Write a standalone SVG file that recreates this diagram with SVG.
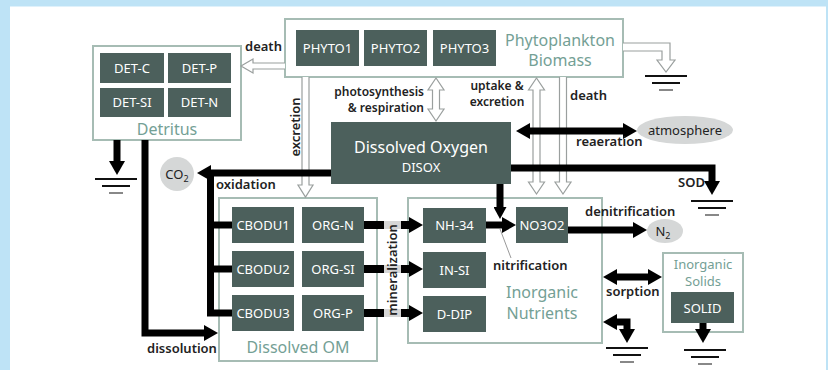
<svg xmlns="http://www.w3.org/2000/svg" xmlns:xlink="http://www.w3.org/1999/xlink" width="828" height="370" viewBox="0 0 828 370">
<style>
.grp{fill:#fff;stroke:#a6bcb4;stroke-width:2}
.box{fill:#4c605c}
.bt{fill:#fff;font-family:"Noto Sans","Liberation Sans",sans-serif;font-size:13px;text-anchor:middle}
.gt{fill:#74a095;font-family:"Noto Sans","Liberation Sans",sans-serif;font-size:16px;text-anchor:middle}
.lb{fill:#222;font-family:"Noto Sans","Liberation Sans",sans-serif;font-size:13px;font-weight:600}
.sm{font-size:12px}
.hol{fill:#fff;stroke:#9a9f9e;stroke-width:1.2;stroke-linejoin:miter}
.thk{fill:none;stroke:#000;stroke-width:7;stroke-linejoin:miter}
.gry{fill:none;stroke:#d6d6d6;stroke-width:7}
.ell{fill:#d5d7d7}
</style>
<defs>
<marker id="ah" markerUnits="userSpaceOnUse" markerWidth="14" markerHeight="16" refX="2" refY="8" orient="auto-start-reverse" viewBox="0 0 14 16">
<path d="M0,0 L14,8 L0,16 Z" fill="#000"/>
</marker>
<marker id="ahs" markerUnits="userSpaceOnUse" markerWidth="12" markerHeight="13" refX="2" refY="6.5" orient="auto" viewBox="0 0 12 13">
<path d="M0,0 L12,6.5 L0,13 Z" fill="#000"/>
</marker>
<g id="gnd">
<line x1="-21" y1="0" x2="21" y2="0" stroke="#111" stroke-width="2"/>
<line x1="-14" y1="7" x2="14" y2="7" stroke="#111" stroke-width="2"/>
<line x1="-7" y1="14" x2="7" y2="14" stroke="#888" stroke-width="2"/>
</g>
</defs>
<rect x="0" y="0" width="828" height="370" fill="#bee3f6"/>
<rect x="10" y="6.5" width="816" height="364" fill="#fff"/>

<g id="phyto">
<rect class="grp" x="285" y="19" width="338" height="58"/>
<rect class="box" x="296" y="30" width="63" height="36"/><text class="bt" x="327.5" y="53">PHYTO1</text>
<rect class="box" x="364" y="30" width="63" height="36"/><text class="bt" x="395.5" y="53">PHYTO2</text>
<rect class="box" x="433" y="30" width="63" height="36"/><text class="bt" x="464.5" y="53">PHYTO3</text>
<text class="gt" x="560" y="46">Phytoplankton</text>
<text class="gt" x="560" y="66">Biomass</text>
</g>

<g id="detritus">
<rect class="grp" x="93" y="46" width="148" height="94"/>
<rect class="box" x="100" y="53" width="64" height="30"/><text class="bt" x="132" y="73">DET-C</text>
<rect class="box" x="168" y="53" width="63" height="30"/><text class="bt" x="199.5" y="73">DET-P</text>
<rect class="box" x="100" y="88" width="64" height="29"/><text class="bt" x="132" y="107">DET-SI</text>
<rect class="box" x="168" y="88" width="63" height="29"/><text class="bt" x="199.5" y="107">DET-N</text>
<text class="gt" x="167" y="135">Detritus</text>
</g>

<g id="disox">
<rect class="box" x="331" y="122" width="180" height="62"/>
<text class="bt" x="421" y="153" style="font-size:16px">Dissolved Oxygen</text>
<text class="bt" x="421" y="172">DISOX</text>
</g>

<g id="dom">
<rect class="grp" x="219" y="198" width="158" height="163"/>
<rect class="box" x="232" y="207" width="62" height="36"/><text class="bt" x="263" y="230">CBODU1</text>
<rect class="box" x="302" y="207" width="62" height="36"/><text class="bt" x="333" y="230">ORG-N</text>
<rect class="box" x="232" y="251" width="62" height="36"/><text class="bt" x="263" y="274">CBODU2</text>
<rect class="box" x="302" y="251" width="62" height="36"/><text class="bt" x="333" y="274">ORG-SI</text>
<rect class="box" x="232" y="295" width="62" height="36"/><text class="bt" x="263" y="318">CBODU3</text>
<rect class="box" x="302" y="295" width="62" height="36"/><text class="bt" x="333" y="318">ORG-P</text>
<text class="gt" x="298" y="353">Dissolved OM</text>
</g>

<g id="nutrients">
<rect class="grp" x="408" y="198" width="194" height="145"/>
<rect class="box" x="423" y="208" width="63" height="35"/><text class="bt" x="454.5" y="230">NH-34</text>
<rect class="box" x="423" y="252" width="63" height="36"/><text class="bt" x="454.5" y="275">IN-SI</text>
<rect class="box" x="423" y="296" width="63" height="36"/><text class="bt" x="454.5" y="319">D-DIP</text>
<rect class="box" x="516" y="207" width="52" height="36"/><text class="bt" x="542" y="230">NO3O2</text>
<text class="gt" x="542" y="298">Inorganic</text>
<text class="gt" x="542" y="319">Nutrients</text>
</g>

<g id="solids">
<rect class="grp" x="663" y="253" width="80" height="79"/>
<text class="gt" x="703" y="269" style="font-size:13px">Inorganic</text>
<text class="gt" x="703" y="286" style="font-size:13px">Solids</text>
<rect class="box" x="671" y="292" width="63" height="31"/><text class="bt" x="702.5" y="313">SOLID</text>
</g>

<g id="co2">
<circle class="ell" cx="177" cy="174" r="17"/>
<text class="lb" x="177" y="179" text-anchor="middle" style="font-weight:normal">CO<tspan font-size="9" dy="3">2</tspan></text>
</g>
<g id="atmosphere">
<ellipse class="ell" cx="685" cy="130" rx="48" ry="14"/>
<text class="lb" x="685" y="135" text-anchor="middle" style="font-weight:normal">atmosphere</text>
</g>
<g id="n2">
<ellipse class="ell" cx="665" cy="231" rx="18" ry="12"/>
<text class="lb" x="663" y="236" text-anchor="middle" style="font-weight:normal">N<tspan font-size="9" dy="3">2</tspan></text>
</g>

<g id="grounds">
<use xlink:href="#gnd" href="#gnd" x="116" y="179"/>
<use xlink:href="#gnd" href="#gnd" x="666" y="76"/>
<use xlink:href="#gnd" href="#gnd" x="712" y="201"/>
<use xlink:href="#gnd" href="#gnd" x="627" y="348"/>
<use xlink:href="#gnd" href="#gnd" x="705" y="350"/>
</g>

<g id="connectors">
<path class="hol" d="M285,63 H253 V59 L241,66 L253,73 V69 H285"/>
<path class="hol" d="M623,43 H670 V60 H675 L666,72 L657,60 H662 V51 H623"/>
<path class="hol" d="M302,77 V185 H298 L305.5,197 L313,185 H309 V77"/>
<path class="hol" d="M432.5,90 H428 L436,78 L444,90 H439.5 V109 H444 L436,121 L428,109 H432.5 Z"/>
<path class="hol" d="M533,90 H528.5 L536.5,78 L544.5,90 H540 V182 H544.5 L536.5,194 L528.5,182 H533 Z"/>
<path class="hol" d="M559.5,77 V182 H555 L563,194 L571,182 H566.5 V77"/>
<line class="thk" x1="528" y1="131" x2="625" y2="131" marker-start="url(#ah)" marker-end="url(#ah)"/>
<polyline class="thk" points="511,168 712,168 712,183" marker-end="url(#ah)"/>
<polyline class="thk" points="331,173 209,173" marker-end="url(#ah)"/>
<polyline class="thk" points="210.5,170 210.5,313 232,313"/>
<line class="thk" x1="210.5" y1="225" x2="232" y2="225"/>
<line class="thk" x1="210.5" y1="269" x2="232" y2="269"/>
<polyline class="thk" points="145,140 145,333 206,333" marker-end="url(#ah)"/>
<line class="thk" x1="117" y1="140" x2="117" y2="163" marker-end="url(#ah)"/>
<line class="thk" x1="500" y1="184" x2="500" y2="209" marker-end="url(#ahs)"/>
<line class="thk" x1="486" y1="225" x2="504" y2="225" marker-end="url(#ah)"/>
<line class="thk" x1="568" y1="230" x2="635" y2="230" marker-end="url(#ah)"/>
<line class="thk" x1="615" y1="277" x2="650" y2="277" marker-start="url(#ah)" marker-end="url(#ah)"/>
<polyline class="thk" points="615,322 627,322 627,331" marker-start="url(#ah)" marker-end="url(#ah)"/>
<line class="thk" x1="703" y1="323" x2="703" y2="331" marker-end="url(#ah)"/>
<line class="thk" x1="364" y1="225" x2="384" y2="225" style="stroke-width:8"/>
<line class="gry" x1="384" y1="225" x2="401" y2="225" style="stroke-width:8"/>
<line class="thk" x1="401" y1="225" x2="411" y2="225" style="stroke-width:8" marker-end="url(#ah)"/>
<line class="thk" x1="364" y1="269" x2="384" y2="269" style="stroke-width:8"/>
<line class="gry" x1="384" y1="269" x2="401" y2="269" style="stroke-width:8"/>
<line class="thk" x1="401" y1="269" x2="411" y2="269" style="stroke-width:8" marker-end="url(#ah)"/>
<line class="thk" x1="364" y1="313" x2="384" y2="313" style="stroke-width:8"/>
<line class="gry" x1="384" y1="313" x2="401" y2="313" style="stroke-width:8"/>
<line class="thk" x1="401" y1="313" x2="411" y2="313" style="stroke-width:8" marker-end="url(#ah)"/>
<line x1="500" y1="229" x2="511" y2="258" stroke="#999" stroke-width="1"/>
</g>

<g id="labels">
<text class="lb" x="245" y="51">death</text>
<text class="lb sm" x="424" y="96" text-anchor="end">photosynthesis</text>
<text class="lb sm" x="424" y="112" text-anchor="end">&amp; respiration</text>
<text class="lb sm" x="497" y="90" text-anchor="middle">uptake &amp;</text>
<text class="lb sm" x="497" y="106" text-anchor="middle">excretion</text>
<text class="lb" x="570" y="100">death</text>
<text class="lb" transform="translate(299.5,127) rotate(-90)" text-anchor="middle">excretion</text>
<text class="lb" x="216" y="189">oxidation</text>
<text class="lb" x="576" y="146">reaeration</text>
<text class="lb" x="705" y="187" text-anchor="end">SOD</text>
<text class="lb" x="147" y="353">dissolution</text>
<text class="lb" transform="translate(396.5,270) rotate(-90)" text-anchor="middle">mineralization</text>
<text class="lb" x="493" y="270">nitrification</text>
<text class="lb" x="585" y="216">denitrification</text>
<text class="lb" x="606" y="296">sorption</text>
</g>
</svg>
